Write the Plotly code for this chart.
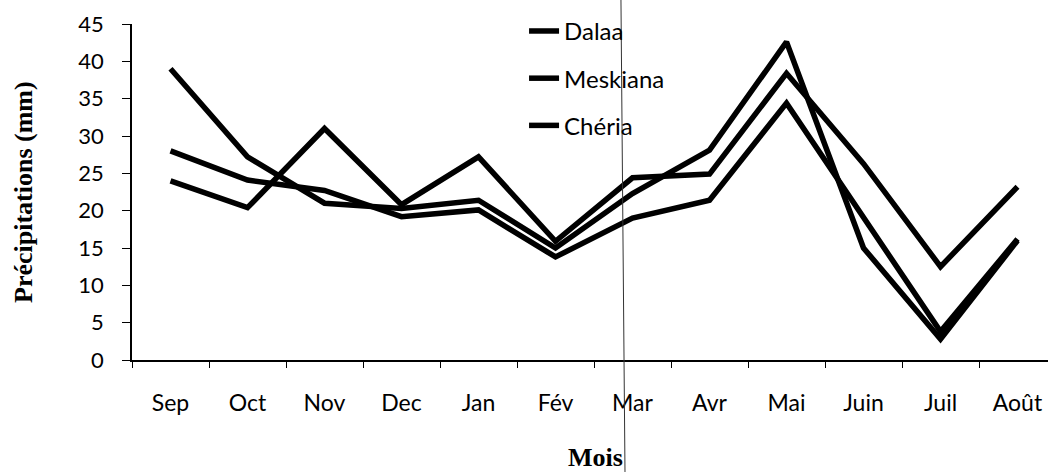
import plotly.graph_objects as go

# Monthly precipitation (mm) at three stations
mois = ["Sep", "Oct", "Nov", "Dec", "Jan", "Fév", "Mar", "Avr", "Mai", "Juin", "Juil", "Août"]
dalaa = [39.0, 27.2, 21.0, 20.3, 21.4, 15.0, 22.3, 28.1, 42.6, 15.0, 2.8, 16.0]
meskiana = [24.0, 20.4, 31.0, 20.8, 27.2, 15.9, 24.4, 24.9, 38.4, 26.3, 12.5, 23.2]
cheria = [28.0, 24.1, 22.7, 19.2, 20.1, 13.8, 19.0, 21.4, 34.4, 19.2, 3.8, 16.2]

series = [("Dalaa", dalaa), ("Meskiana", meskiana), ("Chéria", cheria)]

fig = go.Figure()
for name, vals in series:
    fig.add_trace(go.Scatter(
        x=mois, y=vals, name=name, mode="lines",
        legendgroup=name,
        line=dict(color="black", width=5.5),
    ))

sans = "Lato"
serif = "Liberation Serif"

fig.update_layout(
    width=1048, height=472,
    margin=dict(l=132, r=0, t=24, b=112),
    paper_bgcolor="white", plot_bgcolor="white",
    showlegend=True,
    legend=dict(
        x=0.428, y=1.045, xanchor="left", yanchor="top",
        bgcolor="rgba(0,0,0,0)",
        font=dict(family=sans, size=24, color="black"),
        tracegroupgap=13,
    ),
    xaxis=dict(
        type="category",
        range=[-0.5, 11.396],
        showline=True, linecolor="black", linewidth=1.5,
        ticks="outside", ticklen=6, tickwidth=1, tickcolor="black",
        tickson="boundaries",
        ticklabelstandoff=22,
        tickfont=dict(family=sans, size=23, color="black"),
        showgrid=False, zeroline=False,
    ),
    yaxis=dict(
        range=[0, 45], dtick=5,
        showline=True, linecolor="black", linewidth=1.5,
        ticks="outside", ticklen=8, tickwidth=1, tickcolor="black",
        ticklabelstandoff=14,
        tickfont=dict(family=sans, size=22, color="black"),
        showgrid=False, zeroline=False,
    ),
    annotations=[
        dict(text="<b>Précipitations (mm)</b>", xref="paper", yref="paper",
             x=-0.119, y=0.5, xanchor="center", yanchor="middle",
             textangle=-90, showarrow=False,
             font=dict(family=serif, size=26, color="black")),
        dict(text="<b>Mois</b>", xref="paper", yref="paper",
             x=0.5055, y=-0.289, xanchor="center", yanchor="middle",
             showarrow=False,
             font=dict(family=serif, size=26, color="black")),
    ],
    shapes=[
        dict(type="line", xref="paper", yref="paper",
             x0=0.5338, y0=1.0714, x1=0.5382, y1=-0.3333,
             line=dict(color="#333333", width=1)),
    ],
)

fig.write_html("out.html")
